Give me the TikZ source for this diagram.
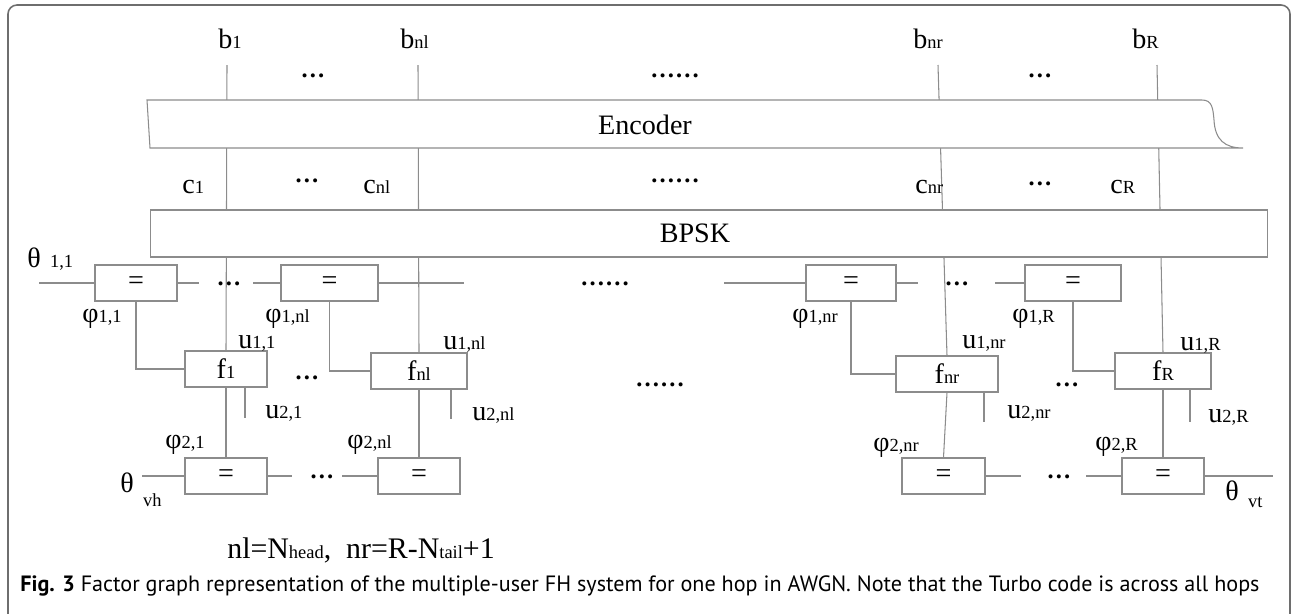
\documentclass[tikz,border=0pt]{standalone}
\usepackage{fontspec}
\setmainfont{Liberation Serif}
\newfontfamily\capfont{PT Sans}
\usepackage{xcolor}
\definecolor{WireGray}{HTML}{8C8C8C}
\definecolor{FrameGray}{HTML}{6E6E6E}
\newcommand{\sbs}[1]{{\fontsize{10.5}{10}\selectfont #1}}

\begin{document}
\begin{tikzpicture}[
	x=0.02cm, y=-0.02cm, % one unit is one pixel of the layout
	% Style for the equality and factor boxes
	box/.style={
		draw=WireGray,
		fill=white,
		line width=0.6pt,
		minimum height=0.72cm,
		inner sep=0pt,
		font=\fontsize{16}{18}\selectfont
	},
	% Style for the connecting lines
	wire/.style={
		draw=WireGray,
		line width=0.6pt
	},
	% Style for the variable names
	lab/.style={
		inner sep=0pt,
		anchor=base west,
		font=\fontsize{16}{18}\selectfont
	},
	% Style for the dots between the columns
	gap/.style={
		inner sep=0pt,
		anchor=base,
		font=\fontsize{14}{14}\selectfont\bfseries
	}
	]
	\useasboundingbox (0,0) rectangle (1292,613);
	
	% 1. Equality and factor boxes
	\node[box, minimum width=1.64cm] (E11) at (136, 283) {=};
	\node[box, minimum width=1.94cm] (E1nl) at (329.5, 283) {=};
	\node[box, minimum width=1.80cm] (E1nr) at (851, 283) {=};
	\node[box, minimum width=1.92cm] (E1R) at (1073, 283) {=};
	
	\node[box, minimum width=1.64cm] (f1) at (226, 369) {f\sbs{1}};
	\node[box, minimum width=1.92cm] (fnl) at (419, 371) {f\sbs{nl}};
	\node[box, minimum width=2.04cm] (fnr) at (947, 374) {f\sbs{nr}};
	\node[box, minimum width=1.92cm] (fR) at (1163, 371) {f\sbs{R}};
	
	\node[box, minimum width=1.64cm] (E21) at (226, 476) {=};
	\node[box, minimum width=1.64cm] (E2nl) at (419, 476) {=};
	\node[box, minimum width=1.66cm] (E2nr) at (943.5, 476) {=};
	\node[box, minimum width=1.64cm] (E2R) at (1163, 476) {=};
	
	% 2. Free ends of the lines
	\coordinate (t1) at (227, 65);
	\coordinate (tnl) at (418, 65);
	\coordinate (tnr) at (938, 65);
	\coordinate (tR) at (1157, 65);
	\coordinate (s1) at (245, 418);
	\coordinate (snl) at (451, 419);
	\coordinate (snr) at (984, 422);
	\coordinate (sR) at (1190, 422);
	
	% 3. Lines
	\draw[wire] (t1) -- (f1.north);
	\draw[wire] (tnl) -- (fnl.north);
	\draw[wire] (tnr) -- (fnr.north);
	\draw[wire] (tR) -- (fR.north);
	
	\draw[wire] (f1.south) -- (E21.north);
	\draw[wire] (fnl.south) -- (E2nl.north);
	\draw[wire] (fnr.south) -- (E2nr.north);
	\draw[wire] (fR.south) -- (E2R.north);
	
	\draw[wire] (s1 |- f1.south) -- (s1);
	\draw[wire] (snl |- fnl.south) -- (snl);
	\draw[wire] (snr |- fnr.south) -- (snr);
	\draw[wire] (sR |- fR.south) -- (sR);
	
	\draw[wire] (E11.south) |- (f1.west);
	\draw[wire] (E1nl.south) |- (fnl.west);
	\draw[wire] (E1nr.south) |- (fnr.west);
	\draw[wire] (E1R.south) |- (fR.west);
	
	\draw[wire] (39, 283) -- (E11.west);
	\draw[wire] (E11.east) -- (199, 283);
	\draw[wire] (253, 283) -- (E1nl.west);
	\draw[wire] (E1nl.east) -- (464, 283);
	\draw[wire] (724, 283) -- (E1nr.west);
	\draw[wire] (E1nr.east) -- (918, 283);
	\draw[wire] (995, 283) -- (E1R.west);
	
	\draw[wire] (142, 476) -- (E21.west);
	\draw[wire] (E21.east) -- (292, 476);
	\draw[wire] (342, 476) -- (E2nl.west);
	\draw[wire] (E2nr.east) -- (1021, 476);
	\draw[wire] (1086, 476) -- (E2R.west);
	\draw[wire] (E2R.east) -- (1273, 476);
	
	% 4. Encoder and BPSK blocks
	\draw[wire, fill=white] (147, 100) -- (1202, 100)
		.. controls (1212, 100) and (1213, 108) .. (1214, 120)
		.. controls (1215, 140) and (1225, 148) .. (1243, 148)
		-- (150, 148) -- cycle;
	\node[lab, anchor=center] (enc) at (645, 125) {Encoder};
	\node[box, minimum width=22.36cm, minimum height=0.94cm,
		label={[lab, anchor=center, xshift=-0.28cm]center:BPSK}] (bpsk) at (709, 233.5) {};
	
	% 5. Variable names
	\node[lab] (b1) at (218, 48) {b\sbs{1}};
	\node[lab] (bnl) at (400, 48) {b\sbs{nl}};
	\node[lab] (bnr) at (913, 48) {b\sbs{nr}};
	\node[lab] (bR) at (1132, 48) {b\sbs{R}};
	
	\node[lab] (c1) at (182, 193) {c\sbs{1}};
	\node[lab] (cnl) at (363, 193) {c\sbs{nl}};
	\node[lab] (cnr) at (915, 193) {c\sbs{nr}};
	\node[lab] (cR) at (1110, 193) {c\sbs{R}};
	
	\node[lab] (th11) at (27, 267) {θ\,\sbs{\ 1,1}};
	\node[lab] (thvh) at (120, 492) {θ\,\raisebox{-1.1ex}{\sbs{\ vh}}};
	\node[lab] (thvt) at (1225, 500) {θ\,\raisebox{-0.6ex}{\sbs{\ vt}}};
	
	\node[lab] (p11) at (82, 322) {φ\sbs{1,1}};
	\node[lab] (p1nl) at (265, 322) {φ\sbs{1,nl}};
	\node[lab] (p1nr) at (792, 322) {φ\sbs{1,nr}};
	\node[lab] (p1R) at (1012, 322) {φ\sbs{1,R}};
	
	\node[lab] (u11) at (238, 348) {u\sbs{1,1}};
	\node[lab] (u1nl) at (443, 349) {u\sbs{1,nl}};
	\node[lab] (u1nr) at (962, 348) {u\sbs{1,nr}};
	\node[lab] (u1R) at (1180, 350) {u\sbs{1,R}};
	
	\node[lab] (u21) at (265, 418) {u\sbs{2,1}};
	\node[lab] (u2nl) at (472, 420) {u\sbs{2,nl}};
	\node[lab] (u2nr) at (1007, 418) {u\sbs{2,nr}};
	\node[lab] (u2R) at (1208, 422) {u\sbs{2,R}};
	
	\node[lab] (p21) at (165, 448) {φ\sbs{2,1}};
	\node[lab] (p2nl) at (347, 448) {φ\sbs{2,nl}};
	\node[lab] (p2nr) at (873, 451) {φ\sbs{2,nr}};
	\node[lab] (p2R) at (1095, 450) {φ\sbs{2,R}};
	
	% 6. Dots
	\node[gap] (d1) at (313, 77) {…};
	\node[gap] (d2) at (675, 77) {……};
	\node[gap] (d3) at (1040, 77) {…};
	\node[gap] (d4) at (307, 182) {…};
	\node[gap] (d5) at (675, 182) {……};
	\node[gap] (d6) at (1040, 185) {…};
	\node[gap] (d7) at (229, 285) {…};
	\node[gap] (d8) at (605, 285) {……};
	\node[gap] (d9) at (957, 285) {…};
	\node[gap] (d10) at (307, 379) {…};
	\node[gap] (d11) at (660, 386) {……};
	\node[gap] (d12) at (1067, 386) {…};
	\node[gap] (d13) at (322, 478) {…};
	\node[gap] (d14) at (1059, 478) {…};
	
	% 7. Note and caption
	\node[lab, font=\fontsize{17}{18}\selectfont] (note) at (227, 558)
		{nl=N\sbs{head},\ \ nr=R-N\sbs{tail}+1};
	\node[lab, font=\capfont\fontsize{12.6}{14}\selectfont] (cap) at (20, 591)
		{\textbf{Fig. 3} Factor graph representation of the multiple-user FH system for one hop in AWGN. Note that the Turbo code is across all hops};
	
	% 8. Frame
	\draw[FrameGray, line width=0.9pt, rounded corners=0.18cm] (8, 5) rectangle (1290, 700);
\end{tikzpicture}
\end{document}
